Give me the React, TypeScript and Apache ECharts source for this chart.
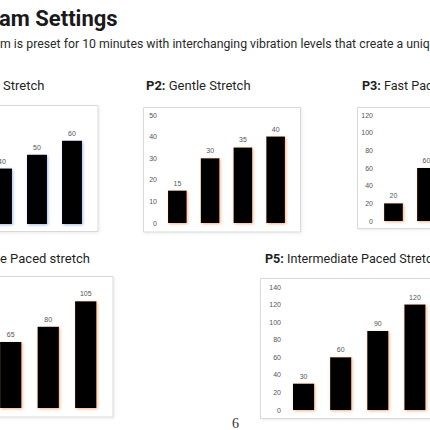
import React, { useEffect, useRef } from "react";
import * as echarts from "echarts";

// Vibration levels per stretch programme (visible bars)
const P1_VALUES = [40, 50, 60];
const P2_VALUES = [15, 30, 35, 40];
const P3_VALUES = [20, 60];
const P4_VALUES = [65, 80, 105];
const P5_VALUES = [30, 60, 90, 120];

const P1_LEVELS = ["L2", "L3", "L4"];
const P2_LEVELS = ["L1", "L2", "L3", "L4"];
const P3_LEVELS = ["L1", "L2"];
const P4_LEVELS = ["L2", "L3", "L4"];
const P5_LEVELS = ["L1", "L2", "L3", "L4"];

const AXIS_MAX = [80, 50, 120, 120, 140];
const AXIS_STEP = [10, 10, 20, 20, 20];

const HEADING = "am Settings";
const SUBHEADING =
  "m is preset for 10 minutes with interchanging vibration levels that create a uniq";
const PAGE_NUMBER = "6";

const LABEL_FONT = "Liberation Sans";
const LABEL_COLOR = "#555555";
const TITLE_FONT = "Roboto";

type Panel = {
  values: number[];
  levels: string[];
  grid: { left: number; top: number; width: number; height: number };
  box: { x: number; y: number; width: number; height: number };
  showAxis: boolean;
  glow: string;
};

const panels: Panel[] = [
  {
    values: P1_VALUES,
    levels: P1_LEVELS,
    grid: { left: -15.5, top: 113, width: 105, height: 111 },
    box: { x: -10, y: 105.5, width: 108, height: 126 },
    showAxis: false,
    glow: "rgba(90,130,210,0.55)",
  },
  {
    values: P2_VALUES,
    levels: P2_LEVELS,
    grid: { left: 161, top: 115, width: 131, height: 108 },
    box: { x: 143.5, y: 107.5, width: 157, height: 124.5 },
    showAxis: true,
    glow: "rgba(237,125,49,0.6)",
  },
  {
    values: P3_VALUES,
    levels: P3_LEVELS,
    grid: { left: 377, top: 115, width: 66, height: 106 },
    box: { x: 357.5, y: 107.5, width: 100, height: 121 },
    showAxis: true,
    glow: "rgba(237,125,49,0.6)",
  },
  {
    values: P4_VALUES,
    levels: P4_LEVELS,
    grid: { left: -8, top: 286, width: 112.5, height: 122 },
    box: { x: -10, y: 276.5, width: 123, height: 140.5 },
    showAxis: false,
    glow: "rgba(237,125,49,0.6)",
  },
  {
    values: P5_VALUES,
    levels: P5_LEVELS,
    grid: { left: 285, top: 287, width: 148.5, height: 123 },
    box: { x: 260.5, y: 278.5, width: 200, height: 140 },
    showAxis: true,
    glow: "rgba(237,125,49,0.6)",
  },
];

const titleText = (x: number, y: number, bold: string, rest: string, size = 13) => ({
  type: "text",
  x,
  y,
  z: 5,
  style: {
    text: bold ? `{b|${bold}}{r|${rest}}` : `{r|${rest}}`,
    verticalAlign: "middle",
    rich: {
      b: { fontFamily: TITLE_FONT, fontSize: size, fontWeight: "bold", fill: "#1f1f1f" },
      r: { fontFamily: TITLE_FONT, fontSize: size, fontWeight: "normal", fill: "#1f1f1f" },
    },
  },
});

function buildOption() {
  const graphic: any[] = [];
  panels.forEach((p) => {
    graphic.push({
      type: "rect",
      z: 0,
      shape: { ...p.box },
      style: {
        fill: "#ffffff",
        stroke: "#d9d9d9",
        lineWidth: 1,
        shadowBlur: 3,
        shadowColor: "rgba(0,0,0,0.08)",
        shadowOffsetX: 1,
        shadowOffsetY: 1,
      },
    });
  });
  graphic.push(
    {
      type: "text",
      x: -1,
      y: 18,
      z: 5,
      style: {
        text: HEADING,
        fontFamily: TITLE_FONT,
        fontWeight: "bold",
        fontSize: 22,
        fill: "#1a1a1a",
        verticalAlign: "middle",
      },
    },
    {
      type: "text",
      x: 0,
      y: 44,
      z: 5,
      style: {
        text: SUBHEADING,
        fontFamily: TITLE_FONT,
        fontSize: 12.3,
        fill: "#2a2a2a",
        verticalAlign: "middle",
      },
    },
    titleText(3, 85, "", "Stretch"),
    titleText(146, 85, "P2:", " Gentle Stretch"),
    titleText(362, 85, "P3:", " Fast Pac", 12.6),
    titleText(0, 258, "", "e Paced stretch"),
    titleText(265, 258, "P5:", " Intermediate Paced Stretc", 12.6),
    {
      type: "text",
      x: 232,
      y: 423,
      z: 5,
      style: {
        text: PAGE_NUMBER,
        fontFamily: "Liberation Serif",
        fontSize: 14,
        fill: "#333333",
        verticalAlign: "middle",
      },
    }
  );

  const series: any[] = [];
  panels.forEach((p, i) => {
    // solid bars with a soft coloured edge
    series.push({
      type: "bar",
      xAxisIndex: i,
      yAxisIndex: i,
      data: p.values,
      barWidth: "57%",
      barGap: "-100%",
      z: 3,
      itemStyle: {
        color: "#000000",
        shadowColor: p.glow,
        shadowBlur: 3,
        shadowOffsetX: 1,
        shadowOffsetY: 1,
      },
      label: { show: false },
    });
    // overlaid clear bars carrying the value labels
    series.push({
      type: "bar",
      xAxisIndex: i,
      yAxisIndex: i,
      data: p.values,
      barWidth: "57%",
      barGap: "-100%",
      z: 4,
      itemStyle: { color: "rgba(0,0,0,0)" },
      label: {
        show: true,
        position: "top",
        distance: 4,
        fontFamily: LABEL_FONT,
        fontSize: 7,
        color: LABEL_COLOR,
      },
    });
  });

  return {
    animation: false,
    backgroundColor: "#ffffff",
    graphic,
    grid: panels.map((p) => ({ ...p.grid, outerBoundsMode: "none", containLabel: false })),
    xAxis: panels.map((p, i) => ({
      type: "category",
      gridIndex: i,
      data: p.levels,
      axisLine: { show: false },
      axisTick: { show: false },
      axisLabel: { show: false },
    })),
    yAxis: panels.map((p, i) => ({
      type: "value",
      gridIndex: i,
      min: 0,
      max: AXIS_MAX[i],
      interval: AXIS_STEP[i],
      splitLine: { show: false },
      axisLine: { show: false },
      axisTick: { show: false },
      axisLabel: {
        show: p.showAxis,
        fontFamily: LABEL_FONT,
        fontSize: 7,
        color: LABEL_COLOR,
        margin: 4,
      },
    })),
    series,
  };
}

export default function App() {
  const ref = useRef<HTMLDivElement>(null);
  useEffect(() => {
    if (!ref.current) return;
    const chart = echarts.init(ref.current, null, { renderer: "svg" });
    chart.setOption(buildOption() as any);
    return () => chart.dispose();
  }, []);
  return (
    <div
      ref={ref}
      style={{
        position: "fixed",
        left: 0,
        top: 0,
        width: 430,
        height: 430,
        background: "#ffffff",
      }}
    />
  );
}
